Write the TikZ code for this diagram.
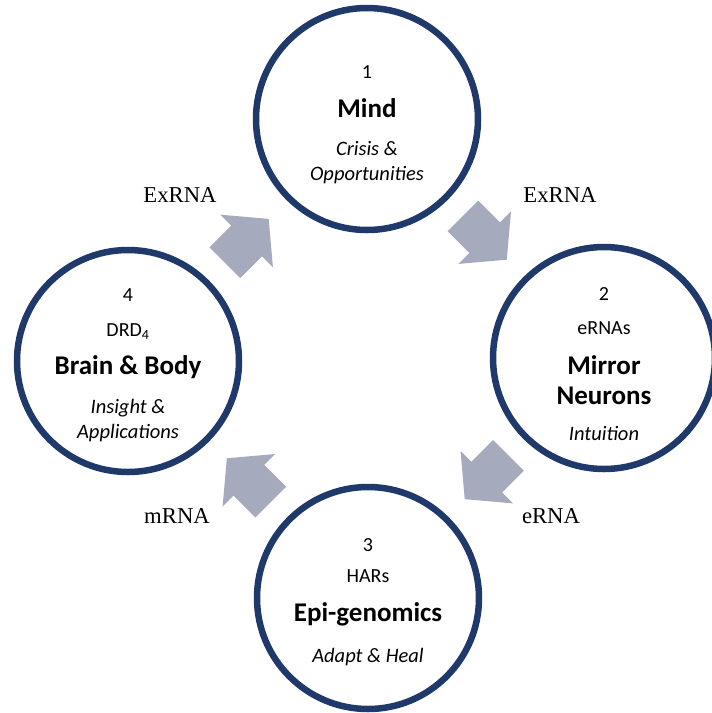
\documentclass[tikz,border=0pt]{standalone}
\usepackage{fontspec}
\setmainfont{Liberation Serif}
\setsansfont{Carlito}
\usetikzlibrary{calc}
\usetikzlibrary{shapes.arrows}

\definecolor{ringblue}{RGB}{31,58,106}
\definecolor{flowgray}{RGB}{166,170,189}

\newcommand{\stagetitle}[1]{{\fontsize{27}{30}\selectfont\bfseries #1}}
\newcommand{\stagenote}[1]{{\fontsize{20.5}{25}\selectfont\itshape #1}}

\begin{document}
\begin{tikzpicture}[%
  x=1pt, y=-1pt,
  stage/.style={circle, draw=ringblue, line width=6.5pt,
    minimum size=222pt, inner sep=0pt},
  stagetext/.style={align=center, inner sep=0pt,
    font=\sffamily\fontsize{20}{25}\selectfont},
  flow/.style={single arrow, fill=flowgray, draw=none,
    inner xsep=0pt, inner ysep=21.5pt, outer sep=0pt,
    minimum height=62pt,
    single arrow head extend=15.5pt, single arrow tip angle=100},
  flowlabel/.style={font=\fontsize{22.7}{26}\selectfont},
]

  \useasboundingbox (0,0) rectangle (712,713);

  \node[stage] (mind) at (367,119) {};
  \node[stage] (mirror) at (604,358) {};
  \node[stage] (epi) at (368,598) {};
  \node[stage] (body) at (128,361) {};

  \node[stagetext] (mindtext) at ([yshift=-6pt]mind.center)
    {1\\[14pt] \stagetitle{Mind}\\[13pt] \stagenote{Crisis \&}\\ \stagenote{Opportunities}};
  \node[stagetext] (mirrortext) at ([yshift=-6pt]mirror.center)
    {2\\[9pt] eRNAs\\[15pt] \stagetitle{Mirror}\\[5pt] \stagetitle{Neurons}\\[11pt] \stagenote{Intuition}};
  \node[stagetext] (epitext) at ([yshift=-4pt]epi.center)
    {3\\[6pt] HARs\\[14pt] \stagetitle{Epi-genomics}\\[16pt] \stagenote{Adapt \& Heal}};
  \node[stagetext] (bodytext) at ([yshift=-4pt]body.center)
    {4\\[10pt] DRD\textsubscript{4}\\[13pt] \stagetitle{Brain \& Body}\\[14pt] \stagenote{Insight \&}\\ \stagenote{Applications}};

  % block arrows between the stages
  \node[flow, rotate=45] (bodymind) at ($(body)!0.47!(mind)$) {};
  \node[flow, rotate=-45] (mindmirror) at ($(mind)!0.47!(mirror)$) {};
  \node[flow, rotate=-135] (mirrorepi) at ($(mirror)!0.47!(epi)$) {};
  \node[flow, rotate=135] (epibody) at ($(epi)!0.47!(body)$) {};

  \node[flowlabel] (bodymindlabel) at (180,195) {ExRNA};
  \node[flowlabel] (mindmirrorlabel) at (560,195) {ExRNA};
  \node[flowlabel] (mirrorepilabel) at (551,516) {eRNA};
  \node[flowlabel] (epibodylabel) at (177,516) {mRNA};

\end{tikzpicture}
\end{document}
